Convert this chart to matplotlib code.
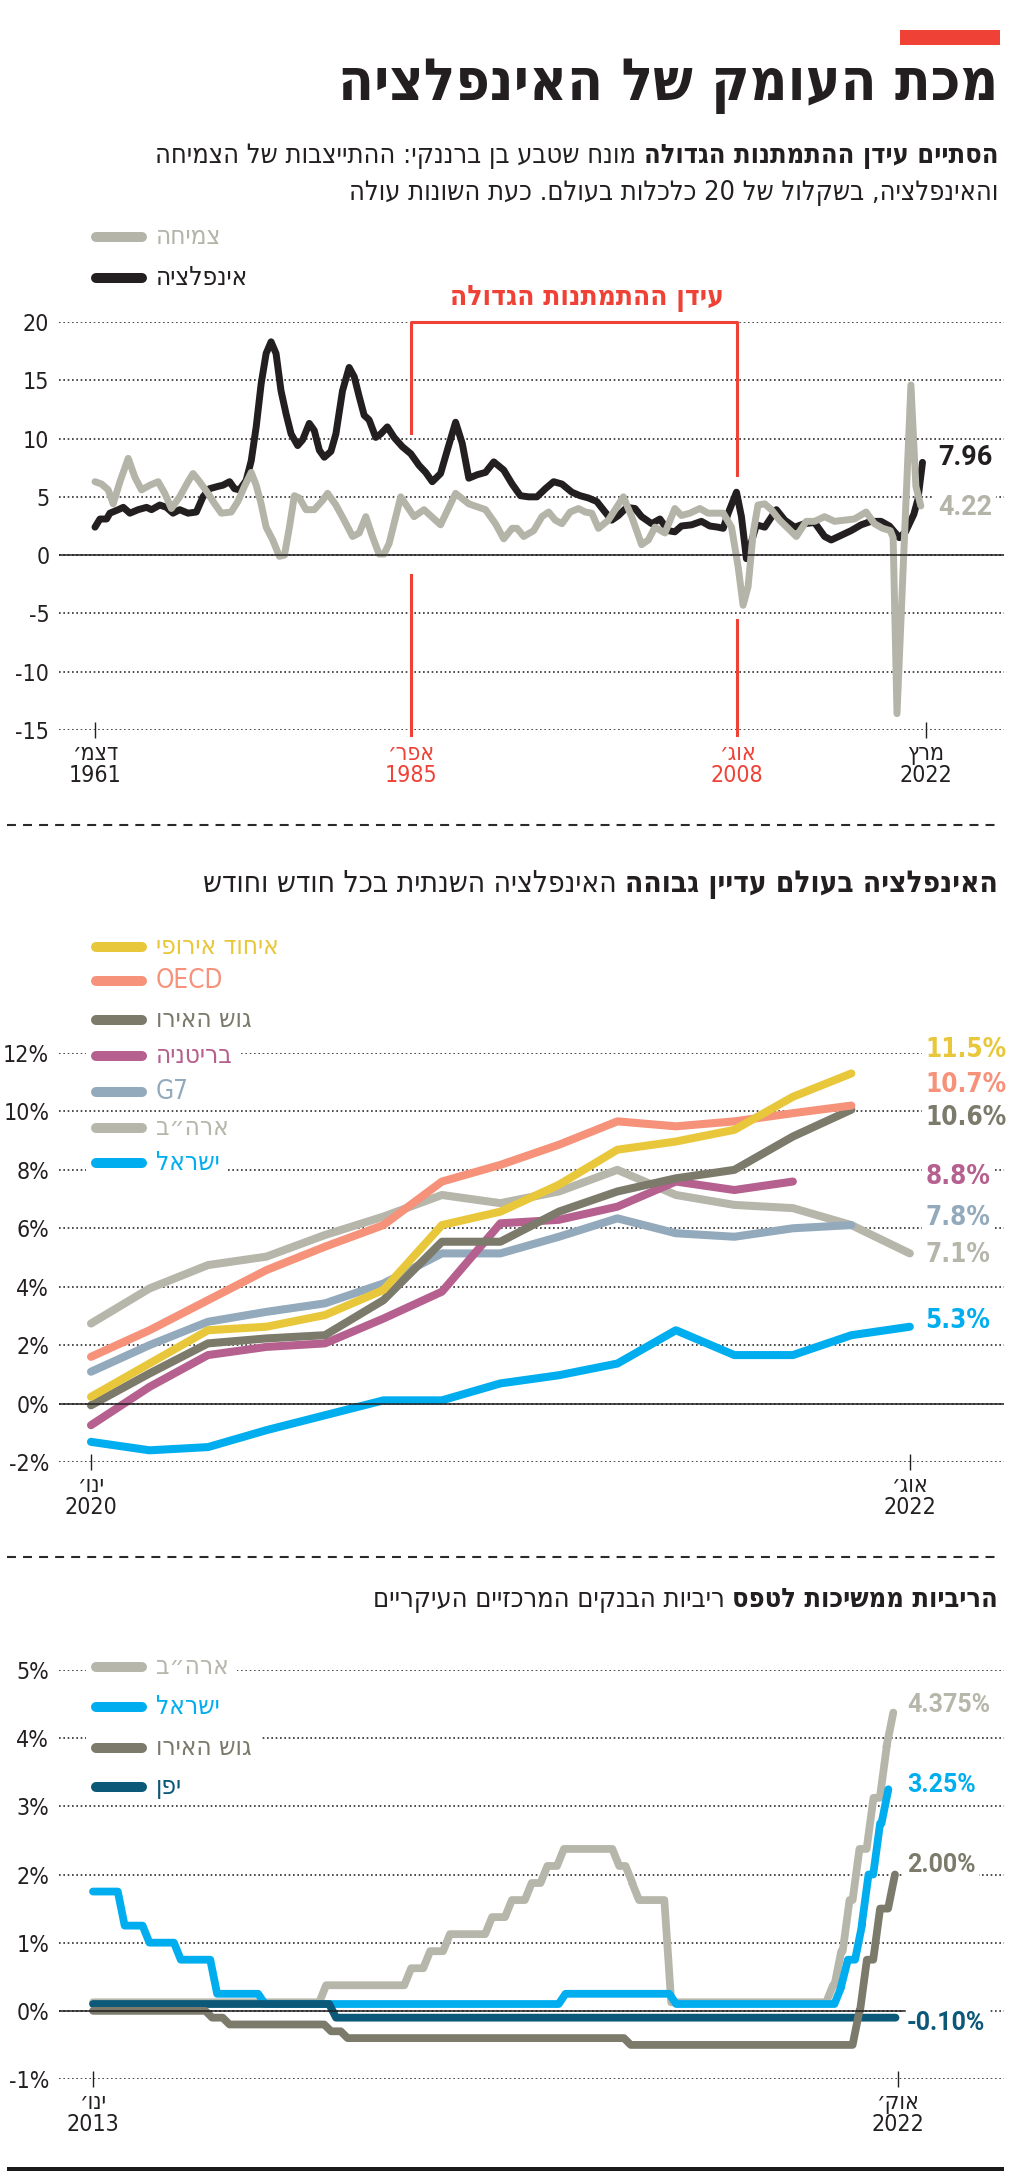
import re

import matplotlib
matplotlib.use("Agg")
import matplotlib.pyplot as plt
from matplotlib import font_manager as fm
from matplotlib.font_manager import FontProperties
from matplotlib.ft2font import FT2Font
from matplotlib.patches import Rectangle

W, H, DPI = 1024, 2178, 100
PT = 72 / DPI  # points per pixel

# ---------------- panel 1: world growth vs inflation, 1961-2022 (%) ----------------
INFL_YEARS = [
    1961.92, 1962.28, 1962.76, 1963.0, 1963.61, 1963.97, 1964.45, 1965.05, 1965.66, 1966.02,
    1966.62, 1967.1, 1967.58, 1968.06, 1968.67, 1969.27, 1969.75, 1970.23, 1970.84, 1971.2,
    1971.68, 1972.04, 1972.4, 1972.88, 1973.25, 1973.61, 1973.97, 1974.33, 1974.69, 1975.05,
    1975.41, 1975.78, 1976.14, 1976.62, 1976.98, 1977.46, 1977.82, 1978.19, 1978.55, 1979.03,
    1979.39, 1979.87, 1980.35, 1980.72, 1981.08, 1981.44, 1981.8, 1982.28, 1982.64, 1983.12,
    1983.61, 1984.21, 1984.82, 1985.42, 1985.9, 1986.38, 1986.98, 1987.47, 1988.07, 1988.55,
    1989.03, 1989.64, 1990.24, 1990.84, 1991.56, 1992.17, 1992.77, 1993.37, 1993.97, 1994.58,
    1995.18, 1995.78, 1996.5, 1997.1, 1997.71, 1998.31, 1998.91, 1999.39, 1999.88, 2000.48,
    2001.08, 2001.56, 2002.29, 2002.89, 2003.49, 2003.97, 2004.45, 2005.18, 2005.9, 2006.5,
    2007.1, 2007.48, 2007.84, 2008.44, 2008.8, 2009.16, 2009.89, 2010.49, 2011.33, 2011.94,
    2012.66, 2013.38, 2014.1, 2014.83, 2015.31, 2016.03, 2016.75, 2017.48, 2018.2, 2018.92,
    2019.53, 2020.25, 2020.7, 2021.3, 2021.6, 2021.93,
]
INFL_VALUES = [
    2.4, 3.1, 3.1, 3.6, 3.9, 4.1, 3.6, 3.9, 4.1, 3.9,
    4.3, 4.1, 3.6, 3.9, 3.6, 3.7, 5.0, 5.7, 5.9, 6.0,
    6.3, 5.7, 5.6, 6.4, 8.1, 11.0, 14.7, 17.3, 18.3, 17.3,
    14.1, 12.1, 10.4, 9.4, 9.9, 11.3, 10.7, 9.0, 8.4, 8.9,
    10.4, 14.1, 16.1, 15.3, 13.6, 12.0, 11.6, 10.1, 10.4, 11.0,
    10.1, 9.3, 8.7, 7.7, 7.1, 6.3, 7.0, 9.0, 11.4, 9.6,
    6.6, 6.9, 7.1, 8.0, 7.3, 6.1, 5.1, 5.0, 5.0, 5.7,
    6.3, 6.1, 5.4, 5.1, 4.9, 4.6, 3.7, 3.0, 3.4, 4.1,
    4.0, 3.3, 2.7, 3.1, 2.1, 2.0, 2.5, 2.6, 2.9, 2.5,
    2.4, 2.3, 3.6, 5.4, 3.3, -0.3, 2.6, 2.4, 3.9, 3.0,
    2.4, 2.7, 2.8, 1.6, 1.3, 1.7, 2.1, 2.6, 2.9, 2.9,
    2.5, 1.5, 2.0, 3.5, 4.8, 7.96,
]
GROWTH_YEARS = [
    1961.92, 1962.4, 1962.88, 1963.24, 1963.73, 1964.33, 1964.81, 1965.29, 1965.9, 1966.5,
    1966.98, 1967.46, 1968.06, 1968.67, 1969.03, 1969.51, 1970.11, 1970.6, 1971.08, 1971.8,
    1972.28, 1972.76, 1973.25, 1973.61, 1973.97, 1974.33, 1974.81, 1975.29, 1975.66, 1976.02,
    1976.38, 1976.74, 1977.22, 1977.82, 1978.43, 1978.79, 1979.39, 1979.99, 1980.6, 1981.08,
    1981.56, 1982.04, 1982.52, 1982.88, 1983.25, 1984.09, 1985.06, 1985.78, 1986.98, 1988.07,
    1989.03, 1990.24, 1990.96, 1991.56, 1992.17, 1992.53, 1993.01, 1993.73, 1994.33, 1994.82,
    1995.3, 1995.78, 1996.38, 1996.98, 1997.47, 1997.95, 1998.43, 1999.15, 2000.24, 2000.84,
    2001.56, 2002.05, 2002.53, 2003.25, 2003.97, 2004.45, 2005.06, 2005.78, 2006.38, 2007.1,
    2007.48, 2008.08, 2008.56, 2008.92, 2009.28, 2009.65, 2010.0, 2010.49, 2010.97, 2011.57,
    2012.18, 2012.78, 2013.5, 2014.1, 2014.83, 2015.55, 2016.27, 2016.99, 2017.84, 2018.44,
    2019.04, 2019.6, 2019.8, 2020.08, 2021.09, 2021.45, 2021.81,
]
GROWTH_VALUES = [
    6.3, 6.1, 5.6, 4.4, 6.3, 8.3, 6.7, 5.6, 6.0, 6.3,
    5.3, 4.0, 5.0, 6.3, 7.0, 6.3, 5.3, 4.4, 3.6, 3.7,
    4.6, 5.9, 7.1, 6.0, 4.4, 2.4, 1.3, -0.1, 0.0, 2.4,
    5.1, 4.9, 3.9, 3.9, 4.7, 5.3, 4.3, 3.0, 1.6, 1.9,
    3.3, 1.6, 0.1, 0.1, 1.0, 5.0, 3.3, 3.9, 2.6, 5.3,
    4.4, 3.9, 2.7, 1.4, 2.3, 2.3, 1.6, 2.1, 3.3, 3.7,
    3.0, 2.7, 3.7, 4.0, 3.7, 3.6, 2.3, 3.0, 5.0, 3.3,
    0.9, 1.3, 2.4, 1.9, 4.0, 3.4, 3.6, 4.0, 3.6, 3.6,
    3.6, 2.4, -1.0, -4.3, -2.7, 1.9, 4.3, 4.4, 3.9, 3.0,
    2.3, 1.6, 2.9, 2.9, 3.3, 2.9, 3.0, 3.1, 3.7, 2.7,
    2.3, 2.1, 1.5, -13.6, 14.6, 5.9, 4.22,
]
P1_NAMES = ["צמיחה", "אינפלציה"]
P1_LAST = ["4.22", "7.96"]
P1_TICKS = [1961.92, 1984.85, 2008.5, 2022.17]
P1_TICK_LABELS = [("דצמ׳", "1961"), ("אפר׳", "1985"), ("אוג׳", "2008"), ("מרץ", "2022")]
ERA_START, ERA_END = 1984.85, 2008.5
P1_YTICKS = [-15, -10, -5, 0, 5, 10, 15, 20]

# ---------------- panel 2: annual inflation, Jan 2020 - Aug 2022 (%) ----------------
P2_STEPS = list(range(15))
EU_INFL = [0.23, 1.37, 2.51, 2.63, 3.03, 3.89, 6.11, 6.57, 7.49, 8.69, 8.97, 9.37, 10.5, 11.3]
OECD_INFL = [1.6, 2.51, 3.54, 4.57, 5.37, 6.11, 7.6, 8.17, 8.86, 9.66, 9.49, 9.66, 9.94, 10.2]
EURO_INFL = [-0.06, 1.03, 2.06, 2.23, 2.34, 3.54, 5.54, 5.54, 6.57, 7.26, 7.71, 8.0, 9.14, 10.06]
UK_INFL = [-0.74, 0.57, 1.66, 1.94, 2.06, 2.91, 3.83, 6.17, 6.29, 6.74, 7.6, 7.31, 7.6]
G7_INFL = [1.09, 2.0, 2.8, 3.14, 3.43, 4.11, 5.14, 5.14, 5.71, 6.34, 5.83, 5.71, 6.0, 6.11]
US_INFL = [2.74, 3.94, 4.74, 5.03, 5.77, 6.4, 7.14, 6.86, 7.26, 8.0, 7.14, 6.8, 6.69, 6.11, 5.14]
ISR_INFL = [-1.31, -1.6, -1.49, -0.91, -0.4, 0.11, 0.11, 0.69, 0.97, 1.37, 2.51, 1.66, 1.66, 2.34, 2.63]
P2_NAMES = ["איחוד אירופי", "OECD", "גוש האירו", "בריטניה", "G7", "ארה״ב", "ישראל"]
P2_LAST = ["11.5%", "10.7%", "10.6%", "8.8%", "7.8%", "7.1%", "5.3%"]
P2_TICK_LABELS = [("ינו׳", "2020"), ("אוג׳", "2022")]
P2_YTICKS = [-2, 0, 2, 4, 6, 8, 10, 12]

# ---------------- panel 3: central bank rates 2013-2022 (%), (change date, new level) ----------------
US_RATE_DATES = [2013.0, 2015.74, 2016.77, 2017.0, 2017.24, 2017.75, 2017.99, 2018.23, 2018.42, 2018.62,
                 2019.29, 2019.45, 2019.53, 2019.92, 2021.88, 2021.98, 2022.08, 2022.2, 2022.37,
                 2022.53, 2022.61]
US_RATE_LEVELS = [0.125, 0.375, 0.625, 0.875, 1.125, 1.375, 1.625, 1.875, 2.125, 2.375,
                  2.125, 1.875, 1.625, 0.125, 0.375, 0.875, 1.625, 2.375, 3.125, 3.875, 4.375]
ISR_RATE_DATES = [2013.0, 2013.3, 2013.6, 2013.98, 2014.42, 2015.0, 2018.64, 2019.98, 2021.98,
                  2022.06, 2022.23, 2022.31, 2022.45, 2022.55]
ISR_RATE_LEVELS = [1.75, 1.25, 1.0, 0.75, 0.25, 0.1, 0.25, 0.1, 0.35, 0.75, 1.25, 2.0, 2.75, 3.25]
EURO_RATE_DATES = [2013.0, 2014.36, 2014.57, 2015.8, 2016.0, 2019.43, 2022.2, 2022.29, 2022.45, 2022.63]
EURO_RATE_LEVELS = [0.0, -0.1, -0.2, -0.3, -0.4, -0.5, 0.0, 0.75, 1.5, 2.0]
JPN_RATE_DATES = [2013.0, 2015.86]
JPN_RATE_LEVELS = [0.1, -0.1]
RATES_END = 2022.72
P3_NAMES = ["ארה״ב", "ישראל", "גוש האירו", "יפן"]
P3_LAST = ["4.375%", "3.25%", "2.00%", "-0.10%"]
P3_TICK_LABELS = [("ינו׳", "2013"), ("אוק׳", "2022")]
P3_TICKS = [2013.0, 2022.75]
P3_YTICKS = [-1, 0, 1, 2, 3, 4, 5]

# ---------------- styles ----------------
INK = "#231f20"
RED = "#ef4136"
GRAY = "#b4b4a8"
EU_C, OECD_C, EURO_C, UK_C = "#e8c83a", "#f6917a", "#7b7a6b", "#b5608e"
G7_C, US_C, ISR_C, JPN_C = "#93aabc", "#b6b6aa", "#00aeef", "#0c5878"
GRID = dict(color="#2e2e2e", lw=1.2, ls=(0, (1, 1.6)))
TICK_PX, XLAB_PX, LEG_PX = 23, 23, 26


def rtl(s):
    """Logical-order Hebrew -> visual order, keeping Latin/digit runs left-to-right."""
    parts = re.split(r"([0-9A-Za-z][0-9A-Za-z.%]*)", s)
    out = [p if p[:1].isascii() and p[:1].isalnum() else p[::-1] for p in parts]
    return "".join(reversed(out))


def _has_hebrew(path):
    try:
        return FT2Font(path).get_char_index(0x05D0) != 0
    except Exception:
        return False


PREFERRED = ["Open Sans", "Liberation Sans", "DejaVu Sans", "Noto Sans", "Roboto", "Lato", "Inter"]


def hebrew_font(bold):
    best = None
    for f in fm.fontManager.ttflist:
        if f.style != "normal":
            continue
        w = f.weight if isinstance(f.weight, int) else fm.weight_dict.get(f.weight, 400)
        if (w >= 600) != bold:
            continue
        if not _has_hebrew(f.fname):
            continue
        tag = (f.name + " " + str(f.stretch) + " " + f.fname).lower()
        narrow = "condensed" in tag or "narrow" in tag
        rank = (0 if narrow else 1,
                PREFERRED.index(f.name) if f.name in PREFERRED else len(PREFERRED),
                abs(w - (700 if bold else 400)))
        if best is None or rank < best[0]:
            best = (rank, f.fname)
    return best[1] if best else None


HEB_REG, HEB_BOLD = hebrew_font(False), hebrew_font(True)


def fp(bold=False, px=20, family=None):
    if family:
        return FontProperties(family=family, weight="bold" if bold else "normal", size=px * PT)
    path = HEB_BOLD if bold else HEB_REG
    if path:
        return FontProperties(fname=path, size=px * PT)
    return FontProperties(family="DejaVu Sans", weight="bold" if bold else "normal", size=px * PT)


NUM_BOLD = ["Roboto", "DejaVu Sans"]


def ramps(dates, levels, end=None, ramp=1 / 12):
    xs, ys = [dates[0]], [levels[0]]
    for d, lv in zip(dates[1:], levels[1:]):
        xs += [d, d + ramp]
        ys += [ys[-1], lv]
    if end is not None:
        xs.append(end)
        ys.append(levels[-1])
    return xs, ys


fig = plt.figure(figsize=(W / DPI, H / DPI), dpi=DPI, facecolor="white")
canvas = fig.add_axes([0, 0, 1, 1], zorder=10)
canvas.set_xlim(0, W)
canvas.set_ylim(H, 0)
canvas.axis("off")
renderer = fig.canvas.get_renderer()


def data_axes(x0, x1, y_top, y_bot):
    ax = fig.add_axes([x0 / W, 1 - y_bot / H, (x1 - x0) / W, (y_bot - y_top) / H])
    ax.patch.set_visible(False)
    for s in ax.spines.values():
        s.set_visible(False)
    ax.set_axisbelow(True)
    return ax


def style_axes(ax, yticks, ylabels, xticks, xlabels):
    ax.set_yticks(yticks, ylabels, fontproperties=fp(False, TICK_PX), color=INK)
    ax.set_xticks(xticks, [rtl(m) + "\n" + y for m, y in xlabels],
                  fontproperties=fp(False, XLAB_PX), color=INK, linespacing=0.95)
    ax.tick_params(axis="y", length=0, pad=7)
    ax.tick_params(axis="x", direction="inout", length=11.5, width=1.0, color=INK, pad=3)
    ax.grid(axis="y", **GRID)
    ax.grid(axis="x", visible=False)


def rtl_line(y, runs, right=998, width=None, max_px=24):
    texts = [canvas.text(right, y, rtl(s), fontproperties=fp(b, max_px), color=c,
                         ha="right", va="baseline") for s, b, c in runs]
    px = max_px
    if width:
        total = sum(t.get_window_extent(renderer).width for t in texts) + 0.28 * px * (len(texts) - 1)
        px = min(max_px, max_px * width / total)
        for t, (s, b, c) in zip(texts, runs):
            t.set_fontproperties(fp(b, px))
    x = right
    for t in texts:
        t.set_x(x)
        x -= t.get_window_extent(renderer).width + 0.28 * px
    return px


def legend_item(y, label, color, px=LEG_PX):
    t = canvas.text(156, y, rtl(label), fontproperties=fp(False, px), color=color,
                    ha="left", va="center", zorder=3)
    w = t.get_window_extent(renderer).width
    canvas.add_patch(Rectangle((86, y - 14), 156 + w + 8 - 86, 28, facecolor="white",
                               edgecolor="none", zorder=1))
    canvas.plot([96, 142], [y, y], color=color, lw=10 * PT, solid_capstyle="round", zorder=2)


def end_label(ax, x, y, s, color, prop):
    ax.text(x, y, s, color=color, fontproperties=prop, ha="left", va="center", zorder=5,
            bbox=dict(boxstyle="square,pad=0.15", facecolor="white", edgecolor="none"))


# ---------------- header ----------------
canvas.add_patch(Rectangle((900, 30), 100, 15, facecolor=RED, edgecolor="none"))
rtl_line(100, [("מכת העומק של האינפלציה", True, INK)], width=659, max_px=62)
sub_px = rtl_line(163, [("הסתיים עידן ההתמתנות הגדולה", True, INK),
                        ("מונח שטבע בן ברננקי: ההתייצבות של הצמיחה", False, INK)],
                  width=909, max_px=27)
rtl_line(200, [("והאינפלציה, בשקלול של 20 כלכלות בעולם. כעת השונות עולה", False, INK)], max_px=sub_px)

# ---------------- panel 1 ----------------
ax1 = data_axes(59, 1004, 322, 730)
ax1.set_xlim(1959.31, 2027.84)
ax1.set_ylim(-15, 20)
style_axes(ax1, P1_YTICKS, [str(v) for v in P1_YTICKS], P1_TICKS, P1_TICK_LABELS)
for i in (1, 2):
    tick = ax1.xaxis.get_major_ticks()[i]
    tick.tick1line.set_visible(False)
    tick.label1.set_color(RED)
ax1.axhline(0, color=INK, lw=1.1, zorder=6)
line_kw = dict(lw=5, solid_joinstyle="round", solid_capstyle="round", clip_on=False)
ax1.plot(INFL_YEARS, INFL_VALUES, color=INK, zorder=3, **line_kw)
ax1.plot(GROWTH_YEARS, GROWTH_VALUES, color=GRAY, zorder=4, **line_kw)
red_kw = dict(color=RED, lw=2.2, clip_on=False, zorder=2)
ax1.plot([ERA_START, ERA_START, ERA_END, ERA_END], [10.5, 20, 20, 6.9], **red_kw)
ax1.plot([ERA_START, ERA_START], [-1.7, -15.4], **red_kw)
ax1.plot([ERA_END, ERA_END], [-5.6, -15.4], **red_kw)
end_label(ax1, 2023.05, 8.4, P1_LAST[1], INK, fp(True, 27, NUM_BOLD))
end_label(ax1, 2023.05, 4.1, P1_LAST[0], GRAY, fp(True, 27, NUM_BOLD))
rtl_line(305, [("עידן ההתמתנות הגדולה", True, RED)], right=576 + 148, width=297, max_px=28)
legend_item(237, P1_NAMES[0], GRAY)
legend_item(278, P1_NAMES[1], INK)

# separator
canvas.plot([7, 1001], [825, 825], color="#2a2a2a", lw=1.5, ls=(0, (4.3, 3.4)))

# ---------------- panel 2 ----------------
rtl_line(892, [("האינפלציה בעולם עדיין גבוהה", True, INK),
               ("האינפלציה השנתית בכל חודש וחודש", False, INK)], width=796, max_px=30)
ax2 = data_axes(59, 1004, 1053, 1462)
ax2.set_xlim(-0.547, 15.61)
ax2.set_ylim(-2, 12)
style_axes(ax2, P2_YTICKS, [f"{v}%" for v in P2_YTICKS], [0, 14], P2_TICK_LABELS)
ax2.axhline(0, color=INK, lw=1.1, zorder=6)
p2_series = [EU_INFL, OECD_INFL, EURO_INFL, UK_INFL, G7_INFL, US_INFL, ISR_INFL]
p2_colors = [EU_C, OECD_C, EURO_C, UK_C, G7_C, US_C, ISR_C]
for k in (5, 4, 3, 2, 1, 0, 6):
    vals = p2_series[k]
    ax2.plot(P2_STEPS[:len(vals)], vals, color=p2_colors[k], lw=5.8,
             solid_joinstyle="round", solid_capstyle="round", clip_on=False, zorder=3)
P2_LABEL_Y = [12.09, 10.89, 9.79, 7.77, 6.34, 5.07, 2.81]
for s, c, yv in zip(P2_LAST, p2_colors, P2_LABEL_Y):
    end_label(ax2, 14.27, yv, s, c, fp(True, 26))
for yy, name, c in zip([947, 981, 1020, 1056, 1092, 1128, 1163], P2_NAMES, p2_colors):
    legend_item(yy, name, c)

canvas.plot([7, 1001], [1557, 1557], color="#2a2a2a", lw=1.5, ls=(0, (4.3, 3.4)))

# ---------------- panel 3 ----------------
rtl_line(1607, [("הריביות ממשיכות לטפס", True, INK),
                ("ריביות הבנקים המרכזיים העיקריים", False, INK)], width=692, max_px=27)
ax3 = data_axes(59, 1004, 1670, 2079)
ax3.set_xlim(2012.588, 2024.034)
ax3.set_ylim(-1, 5)
style_axes(ax3, P3_YTICKS, [f"{v}%" for v in P3_YTICKS], P3_TICKS, P3_TICK_LABELS)
ax3.axhline(0, xmax=0.895, color=INK, lw=1.1, zorder=6)
p3_colors = [US_C, ISR_C, EURO_C, JPN_C]
rate_kw = dict(lw=5.6, solid_joinstyle="round", solid_capstyle="round", clip_on=False)
ax3.plot(*ramps(US_RATE_DATES, US_RATE_LEVELS), color=US_C, zorder=2, **rate_kw)
ax3.plot(*ramps(ISR_RATE_DATES, ISR_RATE_LEVELS), color=ISR_C, zorder=3, **rate_kw)
ax3.plot(*ramps(JPN_RATE_DATES, JPN_RATE_LEVELS, end=RATES_END), color=JPN_C, zorder=4, **rate_kw)
ax3.plot(*ramps(EURO_RATE_DATES, EURO_RATE_LEVELS), color=EURO_C, zorder=5, **rate_kw)
for s, c, yv in zip(P3_LAST, p3_colors, [4.48, 3.31, 2.14, -0.18]):
    end_label(ax3, 2022.86, yv, s, c, fp(True, 25, NUM_BOLD))
for yy, name, c in zip([1667, 1707, 1748, 1787], P3_NAMES, p3_colors):
    legend_item(yy, name, c)

canvas.plot([7, 1004], [2169, 2169], color="#1a1a1a", lw=4 * PT, solid_capstyle="butt")

fig.savefig("out.png", dpi=DPI, facecolor="white")
